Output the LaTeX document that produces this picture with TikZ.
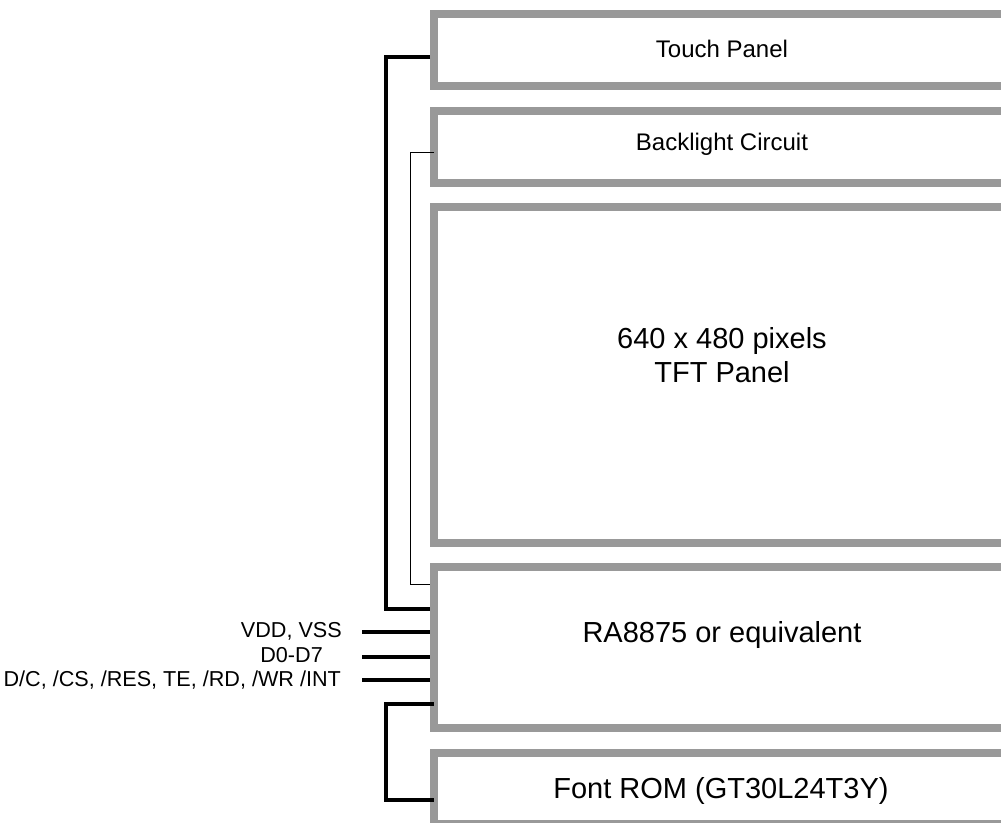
\documentclass[tikz,border=0pt]{standalone}
\usepackage{fontspec}
\setmainfont{Liberation Sans}
\definecolor{boxgray}{RGB}{153,153,153}
\begin{document}
\begin{tikzpicture}[x=1pt,y=-1pt,
  box/.style={draw=boxgray, line width=8pt, line join=miter},
  bus/.style={draw=black, line width=4pt, line join=miter},
  thinbus/.style={draw=black, line width=1pt, line join=miter},
  lbl/.style={inner sep=0pt, anchor=base},
  big/.style={lbl, font=\fontsize{29}{34}\selectfont},
  mid/.style={lbl, font=\fontsize{24}{28}\selectfont},
  sig/.style={inner sep=0pt, anchor=base east, font=\fontsize{21.6}{25}\selectfont}]
\useasboundingbox (0,0) rectangle (1001,822);
\clip (0,0) rectangle (1001,822);

% open boxes (no right border)
\draw[box] (1010,14)  -- (434,14)  -- (434,86)  -- (1010,86);
\draw[box] (1010,111) -- (434,111) -- (434,183) -- (1010,183);
\draw[box] (1010,207) -- (434,207) -- (434,543) -- (1010,543);
\draw[box] (1010,567) -- (434,567) -- (434,728) -- (1010,728);
\draw[box] (1010,753) -- (434,753) -- (434,824) -- (1010,824);

% texts
\node[mid] (touch) at (722,57) {Touch Panel};
\node[mid] (back) at (722,150) {Backlight Circuit};
\node[big] (tftA) at (722,348) {640 x 480 pixels};
\node[big] (tftB) at (722,382) {TFT Panel};
\node[big] (ra) at (722,642) {RA8875 or equivalent};
\node[big] (rom) at (721,798) {Font ROM (GT30L24T3Y)};

\node[sig] (vdd) at (342,637) {VDD, VSS};
\node[sig] (dat) at (323,662) {D0-D7};
\node[sig] (ctl) at (341,686) {D/C, /CS, /RES, TE, /RD, /WR /INT};

% connector end points on box edges
\coordinate (tpL) at (430,56.5);
\coordinate (raT) at (430,608.5);
\coordinate (blL) at (434,152);
\coordinate (raB) at (430,584);
\coordinate (raF) at (434,704);
\coordinate (rmL) at (434,800);
\coordinate (s1a) at (362,632);
\coordinate (s1b) at (430,632);
\coordinate (s2a) at (362,657);
\coordinate (s2b) at (430,657);
\coordinate (s3a) at (362,680);
\coordinate (s3b) at (430,680);

% connectors
\draw[bus] (tpL) -- (386,56.5) -- (386,608.5) -- (raT);
\draw[thinbus] (blL) -- (410,152) -- (410,584) -- (raB);
\draw[bus] (raF) -- (386,704) -- (386,800) -- (rmL);
\draw[bus] (s1a) -- (s1b);
\draw[bus] (s2a) -- (s2b);
\draw[bus] (s3a) -- (s3b);
\end{tikzpicture}
\end{document}
